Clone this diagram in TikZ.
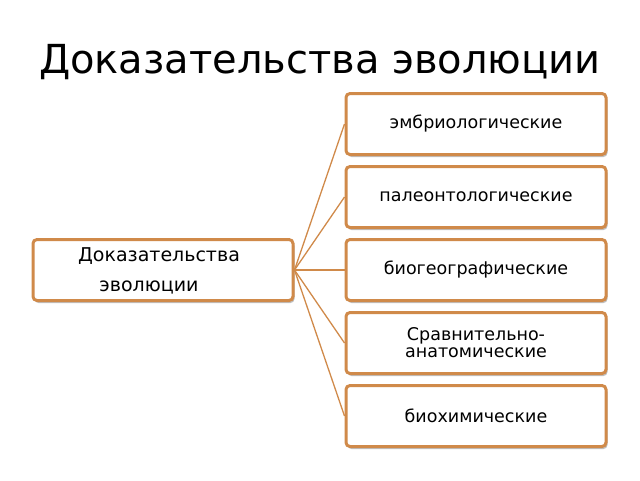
\documentclass[tikz,border=0pt]{standalone}
\usepackage{fontspec}
\setmainfont{DejaVu Sans}
\usetikzlibrary{shadows}
\definecolor{boxline}{HTML}{D08A4A}

\begin{document}
\begin{tikzpicture}[x=1pt,y=-1pt,
  kind/.style={draw=boxline,line width=3pt,fill=white,rounded corners=4pt,
    minimum width=260pt,minimum height=61pt,align=center,
    font=\fontsize{17.5}{19}\selectfont,
    drop shadow={shadow xshift=1.5pt,shadow yshift=-2.5pt,opacity=0.5}},
  link/.style={draw=boxline,line width=1.3pt}]
\useasboundingbox (0,0) rectangle (640,480);
\node (title) at (320,62) {\fontsize{40}{44}\selectfont Доказательства эволюции};
\node [kind] (root) at (163,270) {};
\node [font=\fontsize{19}{22}\selectfont] (rootA) at (159,256) {Доказательства};
\node [font=\fontsize{19}{22}\selectfont] (rootB) at (149,287) {эволюции};
\node [kind] (k1) at (476,124) {эмбриологические};
\node [kind] (k2) at (476,197) {палеонтологические};
\node [kind] (k3) at (476,270) {биогеографические};
\node [kind,font=\fontsize{17.5}{17}\selectfont] (k4) at (476,343) {Сравнительно-\\анатомические};
\node [kind] (k5) at (476,416) {биохимические};
\foreach \k in {k1,k2,k3,k4,k5}
  \draw [link] (root.east) -- (\k.west);
\end{tikzpicture}
\end{document}
